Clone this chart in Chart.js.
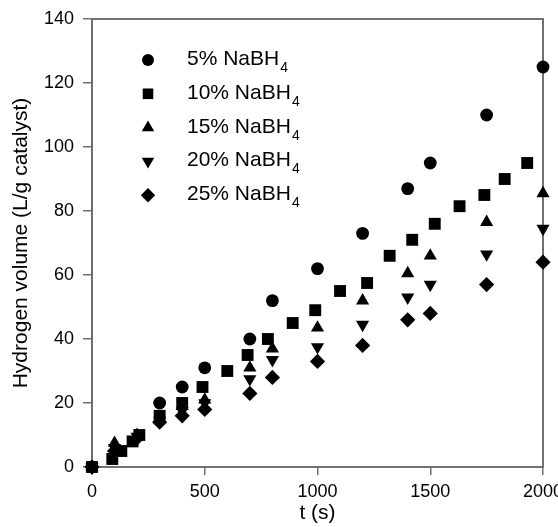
<!DOCTYPE html>
<html>
<head>
<meta charset="utf-8">
<script src="https://cdn.jsdelivr.net/npm/chart.js@4/dist/chart.umd.min.js"></script>
<style>
html,body{margin:0;padding:0;background:#fff;}
#wrap{width:558px;height:527px;}
</style>
</head>
<body>
<div id="wrap"><canvas id="c" width="558" height="527"></canvas></div>
<script>
// ---- Data ----
const seriesNames = ['5% NaBH₄', '10% NaBH₄', '15% NaBH₄', '20% NaBH₄', '25% NaBH₄'];

const t5  = [0, 300, 400, 500, 700, 800, 1000, 1200, 1400, 1500, 1750, 2000];
const v5  = [0, 20, 25, 31, 40, 52, 62, 73, 87, 95, 110, 125];

const t10 = [0, 90, 130, 180, 210, 300, 400, 490, 600, 690, 780, 890, 990, 1100, 1220, 1320, 1420, 1520, 1630, 1740, 1830, 1930];
const v10 = [0, 2.5, 5, 8, 10, 16, 20, 25, 30, 35, 40, 45, 49, 55, 57.5, 66, 71, 76, 81.5, 85, 90, 95];

const t15 = [0, 100, 200, 300, 400, 500, 700, 800, 1000, 1200, 1400, 1500, 1750, 2000];
const v15 = [0, 7.5, 10, 15, 19, 21, 31, 37, 43.5, 52, 60.5, 66, 76.5, 85.5];

const t20 = [0, 100, 200, 300, 400, 500, 700, 800, 1000, 1200, 1400, 1500, 1750, 2000];
const v20 = [0, 6, 9.5, 14.5, 17.5, 20, 27.5, 33.5, 37.5, 44.5, 53, 57, 66.5, 74.5];

const t25 = [0, 100, 200, 300, 400, 500, 700, 800, 1000, 1200, 1400, 1500, 1750, 2000];
const v25 = [0, 5, 9, 14, 16, 18, 23, 28, 33, 38, 46, 48, 57, 64];

const xTicks = [0, 500, 1000, 1500, 2000];
const yTicks = [0, 20, 40, 60, 80, 100, 120, 140];

const xTitle = 't (s)';
const yTitle = 'Hydrogen volume (L/g catalyst)';

// ---- Build ----
const FONT = '"Liberation Sans", Arial, Helvetica, sans-serif';
const toPts = (ts, vs) => ts.map((t, i) => ({x: t, y: vs[i]}));

const styles = [
  {pointStyle: 'circle',   radius: 6.4, rot: 0,   legR: 6},
  {pointStyle: 'rect',     radius: 8.4, rot: 0,   legR: 7.5},
  {pointStyle: 'triangle', radius: 7.6, rot: 0,   legR: 7.2},
  {pointStyle: 'triangle', radius: 7.6, rot: 180, legR: 7.2},
  {pointStyle: 'rectRot',  radius: 7.6, rot: 0,   legR: 7.2}
];
const seriesData = [toPts(t5, v5), toPts(t10, v10), toPts(t15, v15), toPts(t20, v20), toPts(t25, v25)];

const datasets = seriesData.map((d, i) => ({
  label: seriesNames[i],
  data: d,
  pointStyle: styles[i].pointStyle,
  pointRadius: styles[i].radius,
  pointRotation: styles[i].rot,
  pointBackgroundColor: '#000',
  pointBorderWidth: 0,
  borderColor: '#000',
  backgroundColor: '#000',
  showLine: false,
  clip: false,
  legR: styles[i].legR
}));

const boxPlugin = {
  id: 'box',
  beforeDatasetsDraw(chart) {
    const {ctx, chartArea: a} = chart;
    ctx.save();
    ctx.strokeStyle = '#707070';
    ctx.lineWidth = 2;
    ctx.strokeRect(a.left, a.top, a.right - a.left, a.bottom - a.top);
    ctx.restore();
  }
};

const legendPlugin = {
  id: 'inlegend',
  afterDraw(chart) {
    const {ctx, chartArea: a} = chart;
    chart.data.datasets.forEach((ds, i) => {
      const baseY = a.top + 46 + i * 33.8;
      const mx = a.left + 56;
      const my = baseY - 5;
      ctx.save();
      ctx.fillStyle = '#000';
      ctx.strokeStyle = '#000';
      Chart.helpers.drawPoint(ctx, {pointStyle: ds.pointStyle, radius: ds.legR, rotation: ds.pointRotation, borderWidth: 0}, mx, my);
      const main = ds.label.replace('₄', '');
      ctx.font = '21px ' + FONT;
      ctx.textBaseline = 'alphabetic';
      ctx.textAlign = 'left';
      const tx = a.left + 95;
      ctx.fillText(main, tx, baseY);
      const w = ctx.measureText(main).width;
      ctx.font = '14px ' + FONT;
      ctx.fillText('4', tx + w + 1, baseY + 7);
      ctx.restore();
    });
  }
};

new Chart(document.getElementById('c'), {
  type: 'scatter',
  data: {datasets},
  plugins: [boxPlugin, legendPlugin],
  options: {
    responsive: false,
    animation: false,
    events: [],
    layout: {padding: {left: 0, right: 15, top: 19, bottom: 0}},
    plugins: {legend: {display: false}, tooltip: {enabled: false}},
    scales: {
      x: {
        type: 'linear',
        min: 0, max: 2000,
        afterBuildTicks: s => { s.ticks = xTicks.map(v => ({value: v})); },
        afterFit: s => { s.height = 60; s.paddingLeft = 0; s.paddingRight = 0; },
        ticks: {color: '#000', font: {size: 18, family: FONT}, padding: 6, maxRotation: 0, autoSkip: false, callback: v => String(v)},
        grid: {display: true, drawOnChartArea: false, drawTicks: true, tickLength: 8, color: '#707070', lineWidth: 1.5},
        border: {display: false},
        title: {display: true, text: xTitle, color: '#000', font: {size: 21, family: FONT}, padding: {top: 0, bottom: 1}}
      },
      y: {
        type: 'linear',
        min: 0, max: 140,
        afterBuildTicks: s => { s.ticks = yTicks.map(v => ({value: v})); },
        afterFit: s => { s.width = 92; s.paddingTop = 0; s.paddingBottom = 0; },
        ticks: {color: '#000', font: {size: 18, family: FONT}, padding: 9, autoSkip: false, callback: v => String(v)},
        grid: {display: true, drawOnChartArea: false, drawTicks: true, tickLength: 9, color: '#707070', lineWidth: 1.5},
        border: {display: false},
        title: {display: true, text: yTitle, color: '#000', font: {size: 21, family: FONT}, padding: {top: 9, bottom: 0}}
      }
    }
  }
});
</script>
</body>
</html>
